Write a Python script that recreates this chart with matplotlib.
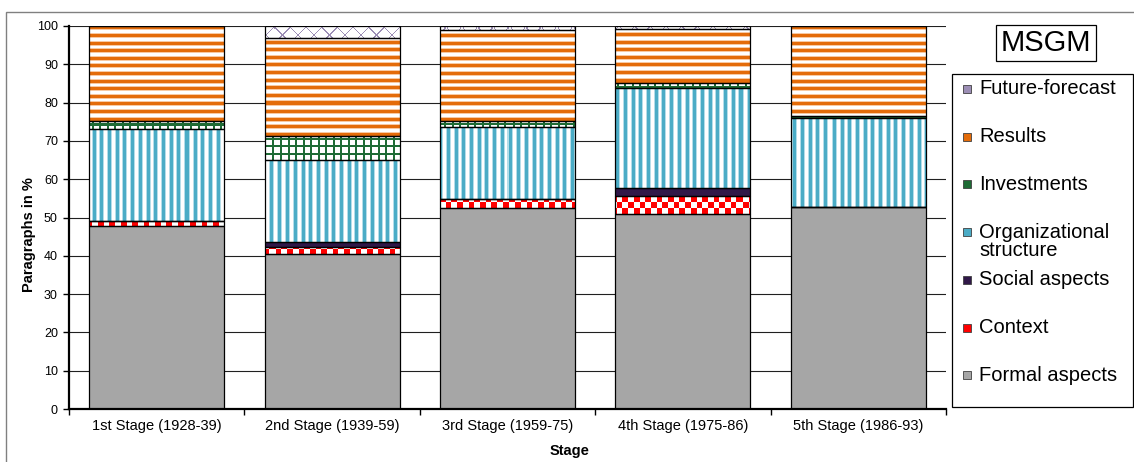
import numpy as np
import matplotlib.pyplot as plt
from matplotlib.colors import to_rgb
from matplotlib.patches import Rectangle

plt.rcParams['font.family'] = ['Liberation Sans', 'DejaVu Sans']

stages = ['1st Stage (1928-39)', '2nd Stage (1939-59)', '3rd Stage (1959-75)',
          '4th Stage (1975-86)', '5th Stage (1986-93)']

# share of paragraphs per topic, bottom to top
formal = [47.8, 40.6, 52.4, 50.8, 52.8]
context = [1.2, 1.8, 2.4, 4.8, 0.0]
social = [0.0, 1.1, 0.0, 2.0, 0.0]
org_structure = [24.0, 21.4, 18.7, 26.3, 23.1]
investments = [2.3, 6.3, 1.8, 1.1, 0.7]
results = [24.7, 25.7, 23.6, 14.1, 23.4]
future = [0.0, 3.1, 1.1, 0.9, 0.0]

W, H = 1134, 462
AX_W, AX_H = 877, 383

# pixel grids for the fill patterns (one texel per screen pixel)
rows, cols = np.mgrid[0:AX_H, 0:AX_W].astype(float)


def texture(parts):
    img = np.ones((AX_H, AX_W, 3))
    for mask, color in parts:
        img[mask] = to_rgb(color)
    return img


def h_stripes(color, light, period=7.6):
    p = rows % period
    fringe = ((p >= 3) & (p < 4)) | (p >= period - 1)
    return texture([(fringe, light), (p < 3, color)])


def v_stripes(color, light, period=7.7):
    p = cols % period
    fringe = ((p >= 3) & (p < 4)) | (p >= period - 1)
    return texture([(fringe, light), (p < 3, color)])


def grid(color, period=7.5):
    lines = ((rows % period) < 2) | ((cols % period) < 2)
    return texture([(lines, color)])


def diag_cross(color, period=15.7):
    lines = (((rows + cols) % period) < 1.3) | (((rows - cols) % period) < 1.3)
    return texture([(lines, color)])


def checker(color, size=5.7):
    cells = (rows // size).astype(int) + (cols // size).astype(int)
    return texture([(cells % 2 == 1, color)])


# label, values, legend colour, fill pattern (None = solid)
layers = [
    ('Formal aspects', formal, '#A6A6A6', None),
    ('Context', context, '#FF0000', checker('#FF0000')),
    ('Social aspects', social, '#301848', None),
    ('Organizational\nstructure', org_structure, '#4BACC6',
     v_stripes('#4BACC6', '#B4DDE9')),
    ('Investments', investments, '#1E6B35', grid('#1E6B35')),
    ('Results', results, '#E46C0A', h_stripes('#E46C0A', '#F8C9A2')),
    ('Future-forecast', future, '#9C8EB5', diag_cross('#9C8EB5')),
]

fig = plt.figure(figsize=(W / 100, H / 100), dpi=100)
ax = fig.add_axes([69 / W, 53 / H, AX_W / W, AX_H / H])

x = np.arange(len(stages))
width = 0.77
bottom = np.zeros(len(stages))
for label, vals, color, pattern in layers:
    vals = np.array(vals)
    face = color if pattern is None else 'white'
    bars = ax.bar(x, vals, width, bottom=bottom, color=face, linewidth=0,
                  zorder=2)
    if pattern is not None:
        for b in bars:
            im = ax.imshow(pattern, extent=(-0.5, 4.5, 0, 100), origin='upper',
                           aspect='auto', interpolation='nearest', zorder=3)
            im.set_clip_path(b)
    ax.bar(x, vals, width, bottom=bottom, fill=False, edgecolor='black',
           linewidth=0.9, zorder=4)
    bottom += vals

ax.set_xlim(-0.5, 4.5)
ax.set_ylim(0, 100)
ax.set_yticks(np.arange(0, 101, 10))
ax.yaxis.grid(True, color='#202020', linewidth=0.8, zorder=0)
ax.set_axisbelow(True)

ax.set_xticks(x)
ax.set_xticklabels(stages, fontsize=10.5)
ax.set_xticks(np.arange(-0.5, 5, 1), minor=True)
ax.tick_params(axis='x', which='major', length=0, pad=7)
ax.tick_params(axis='x', which='minor', length=4, width=1, direction='out')
ax.tick_params(axis='y', length=4, width=1, direction='out', labelsize=9, pad=4)

for side in ['top', 'right']:
    ax.spines[side].set_visible(False)
for side in ['left', 'bottom']:
    ax.spines[side].set_linewidth(1.6)

fig.text(29 / W, 1 - 235 / H, 'Paragraphs in %', rotation=90, ha='center',
         va='center', fontsize=10.5, fontweight='bold')
fig.text(570 / W, 1 - 451 / H, 'Stage', ha='center', va='center',
         fontsize=10.5, fontweight='bold')

fig.text(1046 / W, 1 - 43 / H, 'MSGM', ha='center', va='center', fontsize=21,
         bbox=dict(boxstyle='square,pad=0.15', facecolor='white',
                   edgecolor='black', linewidth=0.9))


def px_to_fig(px, py):
    return px / W, 1 - py / H


# legend box, entries listed top to bottom in equal slots;
# a wrapped label simply runs on below its slot
fig.add_artist(Rectangle(px_to_fig(952, 407), 181 / W, 333 / H,
                         transform=fig.transFigure, facecolor='white',
                         edgecolor='black', linewidth=0.9))
slot_top, slot_step, line_step = 89, 47.7, 18
for i, (label, _, color, _) in enumerate(layers[::-1]):
    yc = slot_top + i * slot_step
    fig.add_artist(Rectangle(px_to_fig(963, yc + 4), 8 / W, 8 / H,
                             transform=fig.transFigure, facecolor=color,
                             edgecolor='#404040', linewidth=0.6))
    for k, line in enumerate(label.split('\n')):
        fig.text(*px_to_fig(979, yc + k * line_step), line, ha='left',
                 va='center', fontsize=14.5)

# thin border round the whole chart area
fig.add_artist(Rectangle((6 / W, -0.01), 1.2, 1 - 12 / H + 0.01,
                         transform=fig.transFigure, fill=False,
                         edgecolor='#808080', linewidth=1))

fig.savefig('out.png', dpi=100)
